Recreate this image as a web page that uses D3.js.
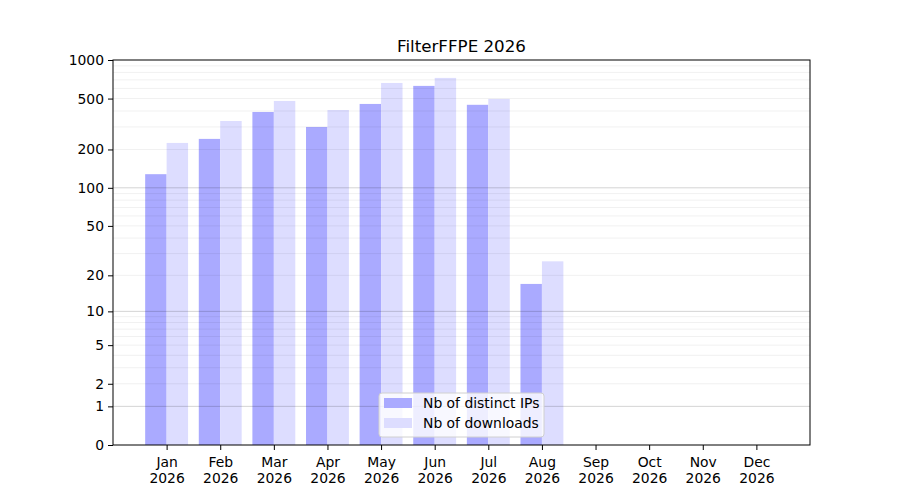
<!DOCTYPE html>
<html>
<head>
<meta charset="utf-8">
<script src="https://cdn.jsdelivr.net/npm/d3@7"></script>
<style>
  body { margin: 0; background: #fff; }
  text { font-family: "DejaVu Sans", sans-serif; fill: #000; }
</style>
</head>
<body>
<div class="chart"></div>
<script>
// chart data
var months = ["Jan", "Feb", "Mar", "Apr", "May", "Jun", "Jul", "Aug", "Sep", "Oct", "Nov", "Dec"];
var year = "2026";
var distinctIPs = [128, 242, 393, 300, 454, 628, 447, 17, 0, 0, 0, 0];
var downloads = [225, 334, 479, 407, 662, 725, 497, 26, 0, 0, 0, 0];
var yTicks = [0, 1, 2, 5, 10, 20, 50, 100, 200, 500, 1000];
var majorGrid = [1, 10, 100];
var minorGrid = [2, 3, 4, 5, 6, 7, 8, 9, 20, 30, 40, 50, 60, 70, 80, 90, 200, 300, 400, 500, 600, 700, 800, 900];

var svgWidth = 900;
var svgHeight = 500;

var margin = { top: 60, right: 90, bottom: 55, left: 113 };
var width = svgWidth - margin.left - margin.right;
var height = svgHeight - margin.top - margin.bottom;

var svg = d3.select(".chart")
  .append("svg")
  .attr("width", svgWidth)
  .attr("height", svgHeight);

var chartGroup = svg.append("g")
  .attr("transform", `translate(${margin.left}, ${margin.top})`);

// scales
var xScale = d3.scaleLinear()
  .domain([-1, 12])
  .range([0, width]);

var yScale = d3.scaleSymlog()
  .constant(1)
  .domain([0, 1000])
  .range([height, 0]);

var barW = xScale(0.4) - xScale(0);

// bars
chartGroup.selectAll(".ipBar")
  .data(distinctIPs)
  .enter()
  .append("rect")
  .attr("x", (d, i) => xScale(i - 0.4))
  .attr("y", d => yScale(d))
  .attr("width", barW)
  .attr("height", d => height - yScale(d))
  .attr("fill", "#aaaaff");

chartGroup.selectAll(".dlBar")
  .data(downloads)
  .enter()
  .append("rect")
  .attr("x", (d, i) => xScale(i))
  .attr("y", d => yScale(d))
  .attr("width", barW)
  .attr("height", d => height - yScale(d))
  .attr("fill", "#ddddff");

// grid lines
chartGroup.selectAll(".minor")
  .data(minorGrid)
  .enter()
  .append("line")
  .attr("x1", 0).attr("x2", width)
  .attr("y1", d => yScale(d)).attr("y2", d => yScale(d))
  .attr("stroke", "#000")
  .attr("stroke-opacity", 0.075)
  .attr("stroke-width", 0.8);

chartGroup.selectAll(".major")
  .data(majorGrid)
  .enter()
  .append("line")
  .attr("x1", 0).attr("x2", width)
  .attr("y1", d => yScale(d)).attr("y2", d => yScale(d))
  .attr("stroke", "#000")
  .attr("stroke-opacity", 0.22)
  .attr("stroke-width", 0.8);

// axes
var leftAxis = d3.axisLeft(yScale)
  .tickValues(yTicks)
  .tickFormat(d3.format("d"))
  .tickSize(5)
  .tickPadding(4);

var bottomAxis = d3.axisBottom(xScale)
  .tickValues(d3.range(months.length))
  .tickFormat("")
  .tickSize(5);

var yAxisG = chartGroup.append("g").call(leftAxis);
yAxisG.select(".domain").remove();
yAxisG.selectAll("text").style("font-size", "13.9px");

var xAxisG = chartGroup.append("g")
  .attr("transform", `translate(0, ${height})`)
  .call(bottomAxis);
xAxisG.select(".domain").remove();

xAxisG.selectAll(".tick").append("text")
  .attr("text-anchor", "middle")
  .style("font-size", "13.9px")
  .each(function(d) {
    var t = d3.select(this);
    t.append("tspan").attr("x", 0).attr("y", 22).text(months[d]);
    t.append("tspan").attr("x", 0).attr("y", 38).text(year);
  });

// frame
chartGroup.append("rect")
  .attr("width", width)
  .attr("height", height)
  .attr("fill", "none")
  .attr("stroke", "#000")
  .attr("stroke-width", 1);

// title
svg.append("text")
  .attr("x", margin.left + width / 2)
  .attr("y", 52)
  .attr("text-anchor", "middle")
  .style("font-size", "16.7px")
  .text("FilterFFPE 2026");

// legend
var legendItems = [
  { label: "Nb of distinct IPs", color: "#aaaaff" },
  { label: "Nb of downloads", color: "#ddddff" }
];
var legend = svg.append("g").attr("transform", "translate(379, 393)");
legend.append("rect")
  .attr("width", 165)
  .attr("height", 44)
  .attr("rx", 3)
  .attr("fill", "#fff")
  .attr("fill-opacity", 0.8)
  .attr("stroke", "#d0d0d0");
legendItems.forEach(function(item, i) {
  legend.append("rect")
    .attr("x", 5)
    .attr("y", 5 + i * 20)
    .attr("width", 28)
    .attr("height", 10)
    .attr("fill", item.color);
  legend.append("text")
    .attr("x", 44)
    .attr("y", 15 + i * 20)
    .style("font-size", "13.9px")
    .text(item.label);
});
</script>
</body>
</html>
